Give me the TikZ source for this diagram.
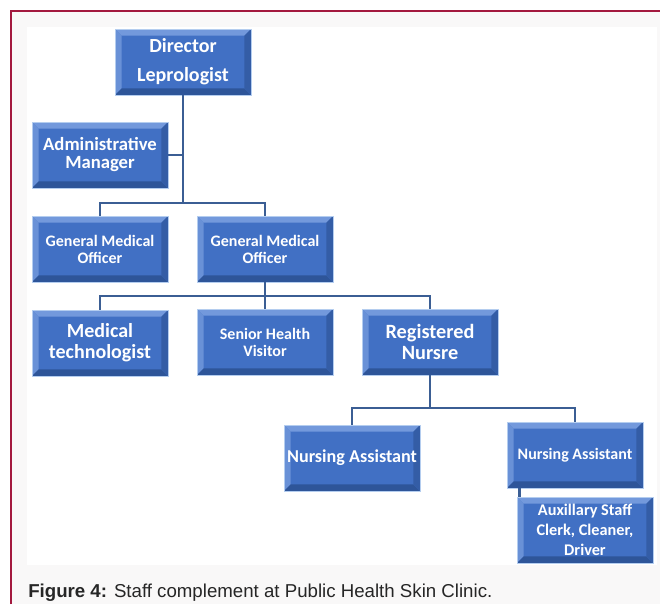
\documentclass[tikz,border=0pt]{standalone}
\usepackage{fontspec}
\setmainfont{Liberation Sans}
\newfontfamily\carlito{Carlito}
\usepackage{tikz}
\usetikzlibrary{positioning}
\usepackage{xcolor}

\definecolor{postblue}{HTML}{4170C4}
\definecolor{postedge}{HTML}{B4CDEF}
\definecolor{postlight}{HTML}{7399DC}
\definecolor{postdark}{HTML}{2E5599}
\definecolor{linkblue}{HTML}{3B5E94}
\definecolor{framered}{HTML}{A3193F}
\definecolor{pagegrey}{HTML}{F9F8F8}

\tikzset{
  post/.style={minimum width=102pt, minimum height=49.5pt, inner sep=0pt,
    align=center, text=white, fill=postblue, draw=postedge, line width=0.6pt,
    path picture={
      \fill[postlight] (path picture bounding box.north west)
        -- (path picture bounding box.north east)
        -- ([shift={(-5pt,-5pt)}]path picture bounding box.north east)
        -- ([shift={(5pt,-5pt)}]path picture bounding box.north west) -- cycle;
      \fill[postlight!80!postblue] (path picture bounding box.north west)
        -- ([shift={(5pt,-5pt)}]path picture bounding box.north west)
        -- ([shift={(5pt,5pt)}]path picture bounding box.south west)
        -- (path picture bounding box.south west) -- cycle;
      \fill[postdark] (path picture bounding box.south west)
        -- (path picture bounding box.south east)
        -- ([shift={(-5pt,5pt)}]path picture bounding box.south east)
        -- ([shift={(5pt,5pt)}]path picture bounding box.south west) -- cycle;
      \fill[postdark!70!postblue] (path picture bounding box.north east)
        -- ([shift={(-5pt,-5pt)}]path picture bounding box.north east)
        -- ([shift={(-5pt,5pt)}]path picture bounding box.south east)
        -- (path picture bounding box.south east) -- cycle;
    }},
  link/.style={draw=linkblue, line width=1.8pt},
}

\begin{document}
\begin{tikzpicture}[x=0.75pt,y=-0.75pt]
  \useasboundingbox (0,0) rectangle (660,604);

  % page & frame
  \fill[pagegrey] (11,11) rectangle (660,604);
  \fill[white] (27,27) rectangle (657,565);
  \draw[framered,line width=1.2pt] (11,604) -- (11,11) -- (660,11);

  % top
  \node[post,font=\carlito\bfseries\fontsize{15}{18}\selectfont] (dir) at (183,62) {Director\\[3.75pt]Leprologist};
  \node[post,font=\carlito\bfseries\fontsize{14}{13.5}\selectfont] (adm) at (100,155) {Administrative\\Manager};

  % medical officers
  \node[post,font=\carlito\bfseries\fontsize{12}{12.8}\selectfont] (gmoa) at (100,249) {General Medical\\Officer};
  \node[post,font=\carlito\bfseries\fontsize{12}{12.8}\selectfont] (gmob) at (265,249) {General Medical\\Officer};

  % staff under gmo
  \node[post,font=\carlito\bfseries\fontsize{15}{15.75}\selectfont] (medt) at (100,343) {Medical\\technologist};
  \node[post,font=\carlito\bfseries\fontsize{12}{12.8}\selectfont] (shv) at (265,342) {Senior Health\\Visitor};
  \node[post,font=\carlito\bfseries\fontsize{15.2}{15.75}\selectfont] (rn) at (430,342) {Registered\\Nursre};

  % nursing
  \node[post,font=\carlito\bfseries\fontsize{13.6}{15}\selectfont] (naa) at (352,458) {Nursing Assistant};
  \node[post,font=\carlito\bfseries\fontsize{12}{14}\selectfont] (nab) at (575,455) {Nursing Assistant};
  \node[post,font=\carlito\bfseries\fontsize{12.2}{15}\selectfont] (aux) at (585,530) {Auxillary Staff\\Clerk, Cleaner,\\Driver};

  % connectors
  \coordinate (busa) at (183,203);
  \coordinate (busb) at (265,296);
  \coordinate (busc) at (430,408);
  \draw[link] (dir.south) -- (busa);
  \draw[link] (adm.east) -- (adm.east -| dir.south);
  \draw[link] (gmoa.north) |- (busa) -| (gmob.north);
  \draw[link] (gmob.south) -- (busb);
  \draw[link] (medt.north) |- (busb) -| (rn.north);
  \draw[link] (shv.north) -- (busb);
  \draw[link] (rn.south) -- (busc);
  \draw[link] (naa.north) |- (busc) -| (nab.north);
  \draw[link] ([xshift=9.75pt]nab.south west) -- ([xshift=9.75pt]nab.south west |- aux.north);

  % caption
  \node[anchor=base west,inner sep=0pt,font=\fontsize{14}{16}\selectfont,text=black!85] (cap) at (28,597)
    {\textbf{Figure 4:} Staff complement at Public Health Skin Clinic.};
\end{tikzpicture}
\end{document}
